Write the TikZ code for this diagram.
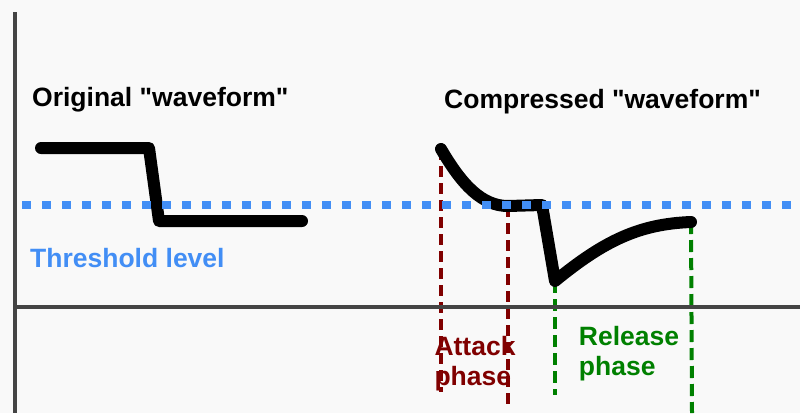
\documentclass[tikz,border=0pt]{standalone}
\usepackage{fontspec}
\setmainfont{Liberation Sans}
\usetikzlibrary{positioning}
\definecolor{axisgray}{RGB}{68,68,68}
\definecolor{threshblue}{RGB}{66,142,245}
\definecolor{attackred}{RGB}{128,0,0}
\definecolor{releasegreen}{RGB}{0,128,0}
\definecolor{bggray}{RGB}{249,249,249}
\tikzset{
    caption/.style={font=\bfseries\fontsize{26.5}{30}\selectfont, inner sep=0pt, align=left},
    wave/.style={line width=12pt, line cap=round, line join=round},
    axis/.style={axisgray, line width=4pt},
    attack/.style={attackred, line width=3.5pt, dash pattern=on 11pt off 6pt},
    release/.style={releasegreen, line width=4pt, dash pattern=on 12pt off 6pt},
    threshold/.style={threshblue, line width=8.5pt, dash pattern=on 8.5pt off 11.5pt}
}

\begin{document}
\begin{tikzpicture}[x=1pt, y=-1pt]
    \fill[bggray] (0,0) rectangle (800,413);
    \useasboundingbox (0,0) rectangle (800,413);

    % labels
    \node[caption, anchor=west] (orig) at (32,100) {Original \textquotedbl waveform\textquotedbl};
    \node[caption, anchor=west] (comp) at (444,102) {Compressed \textquotedbl waveform\textquotedbl};
    \node[caption, anchor=west, threshblue] (thr) at (30,258) {Threshold level};

    % points of the waveforms
    \coordinate (o1) at (41,148);
    \coordinate (o2) at (149,148);
    \coordinate (o3) at (159,221);
    \coordinate (o4) at (302,221);
    \coordinate (c1) at (441,149);
    \coordinate (c2) at (508,206);
    \coordinate (c3) at (542,205);
    \coordinate (c4) at (555,281);
    \coordinate (c5) at (691,222);

    % phase markers
    \coordinate (a1) at (441,392);
    \coordinate (a2) at (508,407);
    \coordinate (r1) at (555,395);
    \coordinate (r2) at (692,413);
    \draw[attack] (c1) -- (a1);
    \draw[attack] (c2) -- (a2);
    \draw[release] (c4) -- (r1);
    \draw[release] (c5) -- (r2);

    \draw[wave] (o1) -- (o2) -- (o3) -- (o4);
    \draw[wave] (c1) .. controls (462,185) and (482,206) .. (c2) -- (c3) -- (c4)
        .. controls (605,240) and (640,224) .. (c5);

    % axes
    \coordinate (ytop) at (15,12);
    \coordinate (ybot) at (15,413);
    \coordinate (xl) at (15,307);
    \coordinate (xr) at (800,307);
    \draw[axis] (ytop) -- (ybot);
    \draw[axis] (xl) -- (xr);

    \coordinate (tl) at (22,205);
    \coordinate (tr) at (800,205);
    \draw[threshold] (tl) -- (tr);

    \node[caption, attackred] (atk) at (475,364) {Attack\\phase};
    \node[caption, releasegreen] (rel) at (629,354) {Release\\phase};
\end{tikzpicture}
\end{document}
